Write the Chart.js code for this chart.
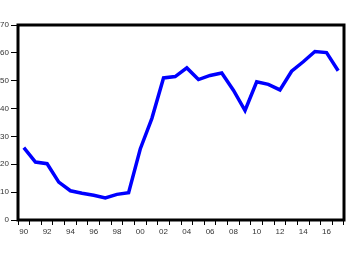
<!DOCTYPE html>
<html>
<head>
<meta charset="utf-8">
<script src="https://cdn.jsdelivr.net/npm/chart.js@4"></script>
<style>
html,body{margin:0;padding:0;background:#fff;}
#wrap{width:346px;height:261px;}
</style>
</head>
<body>
<div id="wrap"><canvas id="c" width="346" height="261"></canvas></div>
<script>
const years = [1990,1991,1992,1993,1994,1995,1996,1997,1998,1999,2000,2001,2002,2003,2004,2005,2006,2007,2008,2009,2010,2011,2012,2013,2014,2015,2016,2017];
const values = [26.0,20.8,20.2,13.6,10.5,9.6,8.9,7.9,9.2,9.8,25.5,36.5,51.0,51.5,54.6,50.4,51.9,52.8,46.6,39.3,49.6,48.7,46.7,53.4,56.8,60.5,60.1,53.6];
const yTicks = [0,10,20,30,40,50,60,70];

const framePlugin = {
  id: 'frame',
  afterDatasetsDraw(chart) {
    const a = chart.chartArea, ctx = chart.ctx;
    ctx.save();
    ctx.strokeStyle = '#000';
    ctx.lineWidth = 3;
    ctx.strokeRect(a.left, a.top, a.right - a.left, a.bottom - a.top);
    ctx.restore();
  }
};

new Chart(document.getElementById('c'), {
  type: 'line',
  data: {
    labels: years.map(y => String(y % 100).padStart(2, '0')),
    datasets: [{
      data: values,
      borderColor: '#0000ff',
      borderWidth: 3.5,
      pointRadius: 0,
      tension: 0,
      fill: false
    }]
  },
  options: {
    responsive: false,
    animation: false,
    layout: { padding: { left: 0, top: 25, right: 2, bottom: 0 } },
    plugins: { legend: { display: false }, tooltip: { enabled: false } },
    scales: {
      x: {
        type: 'category',
        offset: true,
        grid: { offset: true, drawOnChartArea: false, tickLength: 5, color: '#000', lineWidth: 1 },
        border: { display: false },
        ticks: {
          autoSkip: false, maxRotation: 0, minRotation: 0, padding: 2,
          color: '#333', font: { family: 'Liberation Sans, Arial, sans-serif', size: 8 },
          callback: function(v, i) { return years[i] % 2 === 0 ? this.getLabelForValue(v) : ''; }
        },
        afterFit: s => { s.height = 41; }
      },
      y: {
        min: 0, max: 70,
        afterBuildTicks: s => { s.ticks = yTicks.map(v => ({ value: v })); },
        grid: { drawOnChartArea: false, tickLength: 7, color: '#000', lineWidth: 1 },
        border: { display: false },
        ticks: {
          padding: 2, color: '#333',
          font: { family: 'Liberation Sans, Arial, sans-serif', size: 8 }
        },
        afterFit: s => { s.width = 18; }
      }
    }
  },
  plugins: [framePlugin]
});
</script>
</body>
</html>
